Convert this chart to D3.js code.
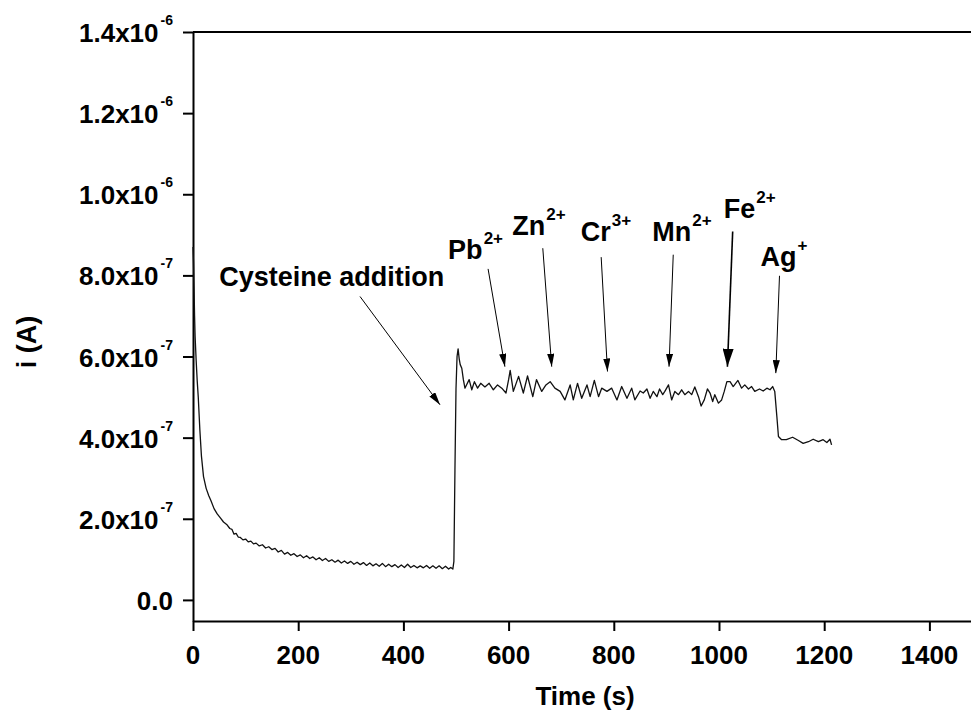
<!DOCTYPE html>
<html lang="en">
<head>
<meta charset="UTF-8">
<title>i-t curve</title>
<style>
    body { margin: 0; background: #fff; }
    svg { display: block; font-family: "Liberation Sans", Arial, sans-serif; font-weight: bold; }
</style>
</head>
<body>
<svg width="971" height="713"></svg>
<script src="https://d3js.org/d3.v7.min.js"></script>
<script>
// current is in units of 1e-7 A
const timeS = [0, 1, 2, 3, 4, 6, 8, 10, 13, 16, 20, 25, 30, 34, 40, 46, 52, 58, 64, 70, 74, 78, 82, 86, 90, 95,
    100, 105, 110, 115, 120, 126, 132, 138, 144, 150, 156, 162, 168, 174, 180, 186, 192, 198,
    204, 210, 216, 222, 228, 234, 240, 246, 252, 258, 264, 270, 276, 282, 288, 294,
    300, 306, 312, 318, 324, 330, 336, 342, 348, 354, 360, 366, 372, 378, 384, 390, 396,
    402, 408, 414, 420, 426, 432, 438, 444, 450, 456, 462, 468, 474, 480, 486, 490, 494,
    496, 498, 500, 502, 504, 506, 508, 511, 514, 517, 520, 525, 530, 535, 541, 547, 555, 563, 571, 579, 587, 595,
    600, 603, 609, 619, 628, 636, 646, 653, 663, 671, 679, 688, 698,
    707, 717, 723, 731, 739, 749, 755, 763, 771, 777, 787, 796,
    806, 815, 825, 834, 840, 850, 856, 863, 869, 875, 882, 887, 893, 897,
    904, 910, 916, 923, 929, 935, 942, 948, 954, 961, 966, 972, 978, 983, 988, 992, 999,
    1005, 1010, 1015, 1021, 1027, 1036, 1043, 1049, 1056, 1062, 1068, 1077, 1084, 1091, 1097,
    1102, 1106, 1110, 1113, 1119, 1128, 1140, 1151, 1160, 1170, 1179, 1189, 1198, 1205, 1211, 1214]
const currentE7 = [8.7, 8.3, 7.7, 7.0, 6.5, 5.9, 5.4, 5.0, 4.2, 3.55, 3.04, 2.75, 2.57, 2.45, 2.25, 2.12, 2.02, 1.92, 1.86, 1.76, 1.74, 1.62, 1.64, 1.55, 1.54, 1.48,
    1.50, 1.43, 1.45, 1.38, 1.40, 1.33, 1.36, 1.28, 1.31, 1.24, 1.27, 1.18, 1.22, 1.13, 1.17, 1.10, 1.14, 1.07,
    1.11, 1.04, 1.09, 1.02, 1.06, 0.99, 1.04, 0.97, 1.02, 0.95, 0.99, 0.93, 0.98, 0.91, 0.96, 0.90,
    0.95, 0.88, 0.93, 0.87, 0.92, 0.85, 0.91, 0.84, 0.89, 0.83, 0.90, 0.82, 0.88, 0.82, 0.87, 0.80, 0.86,
    0.80, 0.88, 0.80, 0.85, 0.79, 0.84, 0.79, 0.85, 0.78, 0.84, 0.78, 0.84, 0.77, 0.83, 0.76, 0.80, 0.76,
    0.95, 3.2, 5.2, 6.0, 6.19, 5.95, 5.8, 5.71, 5.43, 5.22, 5.30, 5.43, 5.18, 5.38, 5.22, 5.34, 5.25, 5.34, 5.18, 5.30, 5.22, 5.10,
    5.43, 5.66, 5.14, 5.51, 5.10, 5.52, 5.01, 5.43, 5.14, 5.30, 5.38, 5.22, 5.14,
    4.93, 5.30, 4.93, 5.34, 4.97, 5.30, 5.01, 5.41, 5.01, 5.22, 5.14, 5.22,
    4.93, 5.26, 4.97, 5.22, 4.93, 5.15, 5.10, 5.20, 4.97, 5.14, 5.01, 5.20, 5.06, 5.14,
    5.30, 4.93, 5.14, 5.06, 5.18, 5.06, 5.14, 5.06, 5.25, 5.01, 4.78, 4.93, 5.20, 5.10, 4.89, 5.06, 4.85,
    4.93, 5.14, 5.38, 5.38, 5.26, 5.41, 5.22, 5.30, 5.20, 5.26, 5.14, 5.20, 5.15, 5.22, 5.18,
    5.26, 5.14, 4.52, 4.03, 3.95, 3.95, 4.01, 3.93, 3.86, 3.90, 3.96, 3.90, 3.95, 3.88, 3.96, 3.82]

const xTicks = [0, 200, 400, 600, 800, 1000, 1200, 1400]
const yTicks = [0, 2, 4, 6, 8, 10, 12, 14]
const yTickMantissa = ["0.0", "2.0x10", "4.0x10", "6.0x10", "8.0x10", "1.0x10", "1.2x10", "1.4x10"]
const yTickExponent = ["", "-7", "-7", "-7", "-7", "-6", "-6", "-6"]

// annotations: label anchor, arrow start and arrow tip, in (s, 1e-7 A)
const ions = ["Pb", "Zn", "Cr", "Mn", "Fe", "Ag"]
const charges = ["2+", "2+", "3+", "2+", "2+", "+"]
const labelT = [485, 607, 737, 873, 1009, 1079]
const labelI = [8.40, 9.00, 8.84, 8.86, 9.41, 8.24]
const arrowFromT = [561, 665, 776, 913, 1026, 1115]
const arrowFromI = [8.16, 8.67, 8.45, 8.51, 9.08, 7.99]
const arrowToT = [593, 682, 788, 905, 1016, 1108]
const arrowToI = [5.75, 5.75, 5.63, 5.75, 5.75, 5.59]

const svg = d3.select('svg')

const x = d3.scaleLinear().domain([0, 1500]).range([193, 982])
const y = d3.scaleLinear().domain([-0.52, 14]).range([621, 32])

svg.append('defs').selectAll('marker')
    .data([['head', 13, 3.6], ['headBig', 18, 5.5]])
    .enter().append('marker')
        .attr('id', d => d[0])
        .attr('markerUnits', 'userSpaceOnUse')
        .attr('viewBox', d => `${-d[1]} ${-d[2]} ${d[1]} ${d[2] * 2}`)
        .attr('markerWidth', d => d[1])
        .attr('markerHeight', d => d[2] * 2)
        .attr('refX', 0).attr('refY', 0)
        .attr('orient', 'auto')
    .append('path')
        .attr('d', d => `M0,0L${-d[1]},${-d[2]}L${-d[1]},${d[2]}Z`)
        .attr('fill', '#000')

// frame top
svg.append('line')
    .attr('x1', x(0)).attr('x2', x(1500))
    .attr('y1', y(14)).attr('y2', y(14))
    .attr('stroke', '#000').attr('stroke-width', 2)

const xAxis = svg.append('g').attr('transform', `translate(0,${y(-0.52)})`)
xAxis.call(d3.axisBottom(x).tickValues(d3.range(100, 1600, 200)).tickSize(6).tickSizeOuter(0).tickFormat(''))
xAxis.call(d3.axisBottom(x).tickValues(xTicks).tickSize(10).tickSizeOuter(0).tickFormat(''))

const yAxis = svg.append('g').attr('transform', `translate(${x(0)},0)`)
yAxis.call(d3.axisLeft(y).tickValues(d3.range(1, 14, 2)).tickSize(6).tickSizeOuter(0).tickFormat(''))
yAxis.call(d3.axisLeft(y).tickValues(yTicks).tickSize(10).tickSizeOuter(0).tickFormat(''))

svg.selectAll('.domain, .tick line').attr('stroke', '#000').attr('stroke-width', 2)

svg.selectAll('.xlab')
    .data(xTicks).enter()
    .append('text')
        .attr('x', d => x(d))
        .attr('y', 664)
        .attr('text-anchor', 'middle')
        .attr('font-size', 26)
        .text(d => d)

const ylab = svg.selectAll('.ylab')
    .data(yTicks).enter()
    .append('text')
        .attr('x', 173)
        .attr('y', d => y(d) + 10)
        .attr('text-anchor', 'end')
        .attr('font-size', 26)
ylab.append('tspan').text((d, i) => yTickMantissa[i])
ylab.append('tspan').attr('font-size', 14).attr('dx', 2).attr('dy', -17).text((d, i) => yTickExponent[i])

svg.append('text')
    .attr('x', 585).attr('y', 705)
    .attr('text-anchor', 'middle')
    .attr('font-size', 26)
    .text('Time (s)')

svg.append('text')
    .attr('transform', 'translate(36,342) rotate(-90)')
    .attr('text-anchor', 'middle')
    .attr('font-size', 27)
    .text('i (A)')

// curve
const line = d3.line().x(d => x(d[0])).y(d => y(d[1]))
svg.append('path')
    .datum(timeS.map((t, i) => [t, currentE7[i]]))
    .attr('d', line)
    .attr('fill', 'none')
    .attr('stroke', '#111')
    .attr('stroke-width', 1.3)
    .attr('stroke-linejoin', 'round')

// cysteine annotation
svg.append('text')
    .attr('x', x(50)).attr('y', y(7.73))
    .attr('font-size', 27)
    .text('Cysteine addition')
svg.append('line')
    .attr('x1', x(317.5)).attr('y1', y(7.48))
    .attr('x2', x(469.6)).attr('y2', y(4.81))
    .attr('stroke', '#000').attr('stroke-width', 1)
    .attr('marker-end', 'url(#head)')

// ion annotations
ions.forEach((ion, i) => {
    const t = svg.append('text')
        .attr('x', x(labelT[i])).attr('y', y(labelI[i]))
        .attr('font-size', 27)
    t.append('tspan').text(ion)
    t.append('tspan').attr('font-size', 17).attr('dx', 1).attr('dy', -15).text(charges[i])
    svg.append('line')
        .attr('x1', x(arrowFromT[i])).attr('y1', y(arrowFromI[i]))
        .attr('x2', x(arrowToT[i])).attr('y2', y(arrowToI[i]))
        .attr('stroke', '#000').attr('stroke-width', ion === 'Fe' ? 1.6 : 1)
        .attr('marker-end', ion === 'Fe' ? 'url(#headBig)' : 'url(#head)')
})
</script>
</body>
</html>
